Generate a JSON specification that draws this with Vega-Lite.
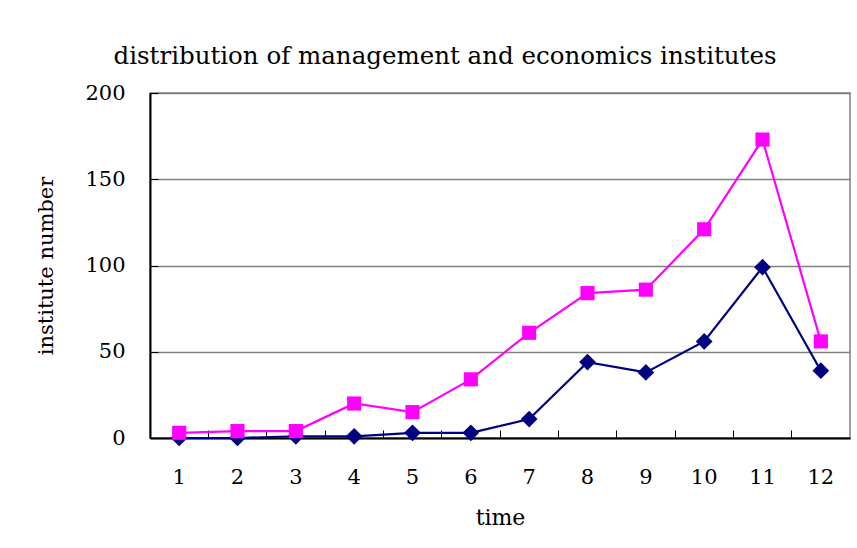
{
  "$schema": "https://vega.github.io/schema/vega-lite/v6.json",
  "width": 700,
  "height": 345,
  "autosize": {"type": "none"},
  "padding": {"left": 150, "top": 93, "right": 7, "bottom": 110},
  "background": "white",
  "config": {
    "font": "DejaVu Serif",
    "view": {"stroke": "#808080", "strokeWidth": 1.5}
  },
  "title": {
    "text": "distribution of management and economics institutes",
    "font": "DejaVu Serif",
    "fontSize": 24.5,
    "fontWeight": "normal",
    "color": "black",
    "anchor": "middle",
    "baseline": "alphabetic",
    "dx": -55,
    "offset": -6
  },
  "data": {
    "values": [
      {"time": 1, "series": "Series1", "value": 0},
      {"time": 2, "series": "Series1", "value": 0},
      {"time": 3, "series": "Series1", "value": 1},
      {"time": 4, "series": "Series1", "value": 1},
      {"time": 5, "series": "Series1", "value": 3},
      {"time": 6, "series": "Series1", "value": 3},
      {"time": 7, "series": "Series1", "value": 11},
      {"time": 8, "series": "Series1", "value": 44},
      {"time": 9, "series": "Series1", "value": 38},
      {"time": 10, "series": "Series1", "value": 56},
      {"time": 11, "series": "Series1", "value": 99},
      {"time": 12, "series": "Series1", "value": 39},
      {"time": 1, "series": "Series2", "value": 3},
      {"time": 2, "series": "Series2", "value": 4},
      {"time": 3, "series": "Series2", "value": 4},
      {"time": 4, "series": "Series2", "value": 20},
      {"time": 5, "series": "Series2", "value": 15},
      {"time": 6, "series": "Series2", "value": 34},
      {"time": 7, "series": "Series2", "value": 61},
      {"time": 8, "series": "Series2", "value": 84},
      {"time": 9, "series": "Series2", "value": 86},
      {"time": 10, "series": "Series2", "value": 121},
      {"time": 11, "series": "Series2", "value": 173},
      {"time": 12, "series": "Series2", "value": 56}
    ]
  },
  "encoding": {
    "x": {
      "field": "time",
      "type": "ordinal",
      "scale": {"type": "band", "paddingInner": 0, "paddingOuter": 0},
      "axis": {
        "title": "time",
        "labelAngle": 0,
        "labelFontSize": 21,
        "labelColor": "black",
        "titleFontSize": 22,
        "titleFontWeight": "normal",
        "titleColor": "black",
        "domainColor": "black",
        "domainWidth": 2,
        "tickColor": "black",
        "tickSize": -8,
        "tickWidth": 1,
        "bandPosition": 0,
        "labelPadding": 36,
        "titlePadding": 20,
        "grid": false
      }
    },
    "y": {
      "field": "value",
      "type": "quantitative",
      "scale": {"domain": [0, 200], "nice": false},
      "axis": {
        "title": "institute number",
        "values": [0, 50, 100, 150, 200],
        "grid": true,
        "gridColor": "#808080",
        "gridWidth": 1.5,
        "domainColor": "black",
        "domainWidth": 2,
        "tickColor": "black",
        "tickSize": -8,
        "tickWidth": 1,
        "labelPadding": 33,
        "labelFontSize": 21,
        "labelColor": "black",
        "titleFontSize": 21,
        "titleFontWeight": "normal",
        "titleColor": "black",
        "titlePadding": 28
      }
    },
    "color": {
      "field": "series",
      "type": "nominal",
      "scale": {"domain": ["Series1", "Series2"], "range": ["#000080", "#FF00FF"]},
      "legend": null
    }
  },
  "layer": [
    {"mark": {"type": "line", "strokeWidth": 2.2}},
    {
      "mark": {"type": "point", "filled": true, "opacity": 1},
      "encoding": {
        "shape": {
          "field": "series",
          "type": "nominal",
          "scale": {"domain": ["Series1", "Series2"], "range": ["diamond", "square"]},
          "legend": null
        },
        "size": {
          "field": "series",
          "type": "nominal",
          "scale": {"domain": ["Series1", "Series2"], "range": [280, 200]},
          "legend": null
        }
      }
    }
  ]
}
